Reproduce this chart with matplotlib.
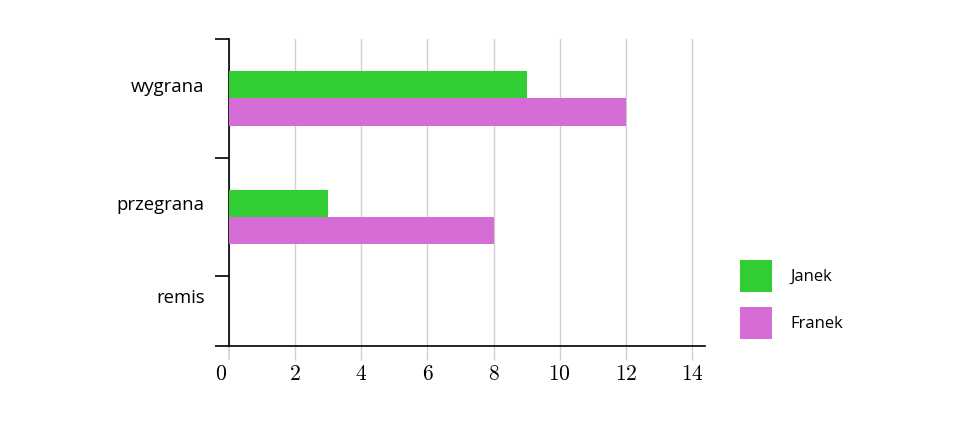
import matplotlib
matplotlib.use("Agg")
import matplotlib.pyplot as plt
import matplotlib.transforms as mtransforms
from matplotlib.patches import Patch
import numpy as np

categories = ["wygrana", "przegrana", "remis"]
janek = [9, 3, 0]
franek = [12, 8, 0]
series_names = ["Janek", "Franek"]
colors = ["#32cd32", "#d66cd6"]
xticks = [0, 2, 4, 6, 8, 10, 12, 14]

plt.rcParams['mathtext.fontset'] = 'cm'

fig = plt.figure(figsize=(9.6, 4.28), dpi=100)
ax = fig.add_axes([229/960, 1-346/428, (705-229)/960, (346-39)/428])

pos = np.arange(len(categories))
h = 0.23
ax.barh(pos - h/2, janek, height=h, color=colors[0], zorder=3)
ax.barh(pos + h/2, franek, height=h, color=colors[1], zorder=3)

ax.set_xlim(0, 14.39)
ax.set_ylim(2.09, -0.5)

# boundary ticks (no labels)
ax.set_yticks([-0.5, 0.5, 1.5, 2.09])
ax.set_yticklabels([])
ax.tick_params(axis='y', which='major', direction='out', length=10, width=1.2, color='black')
# category labels at minor positions
ax.set_yticks([-0.11, 0.88, 1.67], minor=True)
ax.set_yticklabels(categories, minor=True, fontsize=13.3, family='Open Sans')
ax.tick_params(axis='y', which='minor', length=0, pad=17.5)

ax.set_xticks(xticks)
ax.set_xticklabels([f"${v}$" for v in xticks], fontsize=15.5)
ax.tick_params(axis='x', direction='out', length=10, width=1, color='#d0d0d0', pad=3)
ax.xaxis.get_major_ticks()[0].tick1line.set_color('black')
ax.xaxis.get_major_ticks()[0].tick1line.set_markeredgewidth(1.2)

fig.canvas.draw()
shift = mtransforms.ScaledTranslation(-8/100, 0, fig.dpi_scale_trans)
lbl0 = ax.get_xticklabels()[0]
lbl0.set_transform(lbl0.get_transform() + shift)

ax.grid(axis='x', color='#d0d0d0', linewidth=1, zorder=0)
for s in ['top', 'right']:
    ax.spines[s].set_visible(False)
ax.spines['left'].set_linewidth(1.2)
ax.spines['bottom'].set_linewidth(1.2)

handles = [Patch(facecolor=c) for c in colors]
fig.legend(handles, series_names, loc='upper left', bbox_to_anchor=(740/960, 1-260/428),
           frameon=False, handlelength=1.92, handleheight=2.57, labelspacing=0.9,
           handletextpad=1.08, borderpad=0, borderaxespad=0,
           prop={'family': 'Open Sans', 'size': 12})

fig.savefig("out.png", dpi=100)
